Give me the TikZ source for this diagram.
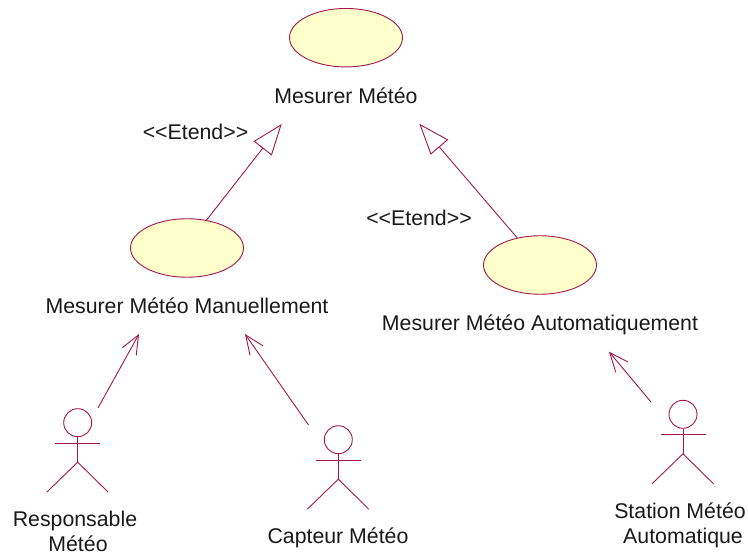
\documentclass[tikz,border=0pt]{standalone}
\usepackage{fontspec}
\setmainfont{Liberation Sans}
\usetikzlibrary{arrows.meta, positioning, shapes.geometric}
\definecolor{trait}{HTML}{A5174A}
\definecolor{fond}{HTML}{FFFFCC}

\begin{document}
\begin{tikzpicture}[x=1pt, y=1pt,
    usecase/.style={ellipse, draw=trait, fill=fond, line width=0.9pt, minimum width=113pt, minimum height=58.5pt, inner sep=0pt},
    texte/.style={font=\fontsize{21.3}{25}\selectfont, inner sep=0pt, align=center, text=black!90},
    etend/.style={draw=trait, line width=0.9pt, -{Triangle[open, fill=white, length=31pt, width=23pt]}},
    assoc/.style={draw=trait, line width=0.9pt, -{Straight Barb[length=19pt, width=16pt]}},
    tete/.style={circle, draw=trait, line width=0.9pt, minimum size=28pt, inner sep=0pt},
    acteur/.pic={
        \node [tete] (-tete) at (0,0) {};
        \draw [trait, line width=0.9pt] (-tete.south) -- (0,-39.5);
        \draw [trait, line width=0.9pt] (-22.5,-20.5) -- (22.5,-20.5);
        \draw [trait, line width=0.9pt] (-31,-69.5) -- (0,-39.5) -- (30.5,-69.5);
    }]
    \useasboundingbox (0,0) rectangle (748,553);

    % cas d'utilisation
    \node [usecase] (mesure) at (346,515.3) {};
    \node [usecase] (manuel) at (187,305) {};
    \node [usecase] (auto) at (540,288) {};
    \node [texte] (mesureT) [below=20pt of mesure] {Mesurer Météo};
    \node [texte] (manuelT) [below=20pt of manuel] {Mesurer Météo Manuellement};
    \node [texte] (autoT) [below=20pt of auto] {Mesurer Météo Automatiquement};
    \node [texte] (etendA) at (195.5,421) {{<}{<}Etend{>}{>}};
    \node [texte] (etendB) at (419,335) {{<}{<}Etend{>}{>}};

    % acteurs
    \pic (resp) at (77.7,130.3) {acteur};
    \pic (capt) at (338.3,113.3) {acteur};
    \pic (stat) at (683,138.7) {acteur};
    \node [texte] (respT) at (75,21.5) {Responsable\\\hspace{6pt}Météo};
    \node [texte] (captT) at (338,15) {Capteur Météo};
    \node [texte] (statT) at (680,28) {Station Météo\\\hspace{6pt}Automatique};

    % extremites libres
    \coordinate (tipA) at (281.7,429);
    \coordinate (tipB) at (419.3,429.3);
    \coordinate (tipC) at (139,219);
    \coordinate (tipD) at (245,219);
    \coordinate (tipE) at (609,201.3);
    \coordinate (startC) at (98,145);
    \coordinate (startD) at (308.5,128);
    \coordinate (startE) at (651,151);

    % relations
    \draw [etend] (manuel.55) -- (tipA);
    \draw [etend] (auto.130) -- (tipB);
    \draw [assoc] (startC) -- (tipC);
    \draw [assoc] (startD) -- (tipD);
    \draw [assoc] (startE) -- (tipE);
\end{tikzpicture}
\end{document}
